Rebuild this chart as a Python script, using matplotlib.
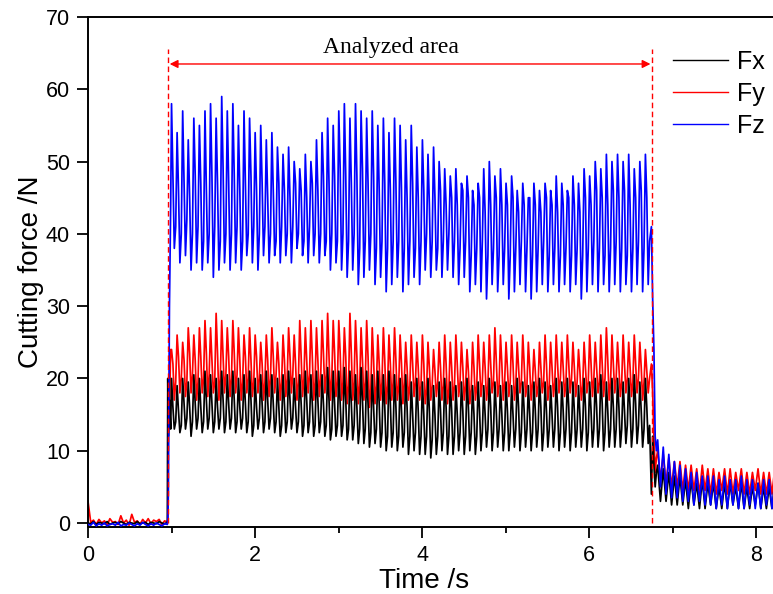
import numpy as np
import matplotlib
matplotlib.use("Agg")
import matplotlib.pyplot as plt

plt.rcParams['font.family'] = ['Liberation Sans', 'DejaVu Sans']

# ---------------- data ----------------
series_names = ["Fx", "Fy", "Fz"]

# idle period before cutting (0 - 0.95 s)
fx_pre = [0.0, -0.1, 0.2, -0.2, 0.1, 0.0, -0.1, 0.2, -0.2, 0.0, 0.1, -0.1, 0.2, 0.0, -0.2,
          0.1, 0.0, -0.1, 0.2, -0.1, 0.0, 0.1, -0.2, 0.1, 0.0, -0.1, 0.2, 0.0, -0.1, 0.1]
fy_pre = [3.0, 0.1, 0.4, -0.2, 0.5, 0.0, 0.3, -0.3, 0.6, 0.1, 0.2, -0.2, 1.0, 0.0, 0.4,
          -0.3, 1.2, 0.1, 0.3, -0.2, 0.5, 0.0, 0.6, -0.1, 0.4, 0.2, 0.5, -0.2, 0.3, 0.1]
fz_pre = [-0.2, -0.3, 0.1, -0.4, -0.1, -0.3, 0.0, -0.4, -0.2, -0.1, -0.3, 0.1, -0.4, -0.2, -0.3,
          0.0, -0.2, -0.4, -0.1, -0.3, 0.1, -0.2, -0.4, -0.1, -0.3, 0.0, -0.2, -0.4, -0.1, -0.2]

# tool entry
rise_t = [0.955, 0.962, 0.975, 0.99]
fx_rise = [20, 12, 17, 13]
fy_rise = [0.5, 14, 16, 24]
fz_rise = [0.5, 4, 30, 44]

# cutting period: per-cycle peak, trough, secondary high, secondary low
fz_peak = [58, 54, 57, 53, 56, 55, 57, 58, 56, 59,
           57, 58, 55, 57, 56, 54, 55, 53, 54, 52,
           51, 52, 50, 49, 51, 50, 53, 54, 56, 55,
           57, 58, 56, 58, 57, 56, 57, 55, 56, 54,
           56, 55, 53, 55, 52, 53, 51, 52, 50, 49,
           48, 49, 47, 48, 46, 47, 49, 50, 48, 49,
           47, 48, 46, 47, 45, 47, 46, 47, 46, 48,
           47, 46, 48, 47, 49, 48, 50, 49, 51, 50,
           51, 50, 51, 49, 50, 51]
fz_trough = [38, 36, 37, 35, 36, 35, 36, 34, 35, 36,
             35, 36, 35, 37, 36, 35, 37, 36, 37, 36,
             37, 36, 38, 37, 36, 37, 36, 37, 35, 36,
             35, 34, 35, 33, 34, 35, 33, 34, 32, 33,
             34, 32, 33, 34, 33, 35, 34, 35, 34, 35,
             34, 33, 34, 32, 33, 32, 31, 33, 32, 33,
             31, 32, 33, 32, 31, 32, 33, 32, 33, 32,
             33, 32, 33, 31, 32, 33, 32, 33, 32, 33,
             32, 33, 32, 33, 32, 33]
fz_mid_hi = [48, 46, 47, 45, 48, 47, 46, 48, 47, 49,
             47, 48, 46, 47, 48, 46, 47, 45, 46, 47,
             46, 45, 47, 46, 45, 47, 46, 48, 47, 48,
             49, 48, 47, 48, 49, 47, 48, 46, 47, 46,
             47, 46, 45, 47, 45, 46, 44, 45, 46, 44,
             45, 44, 46, 45, 44, 45, 43, 44, 45, 44,
             44, 45, 43, 44, 45, 44, 43, 45, 44, 43,
             44, 45, 44, 43, 45, 44, 46, 45, 44, 46,
             45, 46, 44, 45, 46, 45]
fz_mid_lo = [41, 40, 42, 40, 41, 39, 40, 41, 39, 40,
             40, 41, 39, 40, 41, 40, 41, 40, 39, 41,
             40, 41, 40, 39, 41, 40, 40, 39, 40, 39,
             40, 39, 40, 38, 39, 40, 38, 39, 38, 39,
             39, 38, 39, 38, 39, 40, 39, 38, 39, 40,
             39, 38, 39, 37, 38, 39, 37, 38, 37, 38,
             37, 38, 39, 38, 37, 38, 39, 37, 38, 37,
             38, 37, 38, 37, 38, 39, 38, 37, 38, 39,
             38, 37, 38, 39, 38, 39]

fy_peak = [24, 26, 25, 27, 26, 27, 28, 27, 29, 28,
           27, 28, 27, 26, 27, 26, 25, 26, 27, 25,
           26, 27, 26, 28, 27, 28, 27, 28, 29, 28,
           28, 27, 29, 28, 27, 28, 27, 26, 27, 26,
           27, 26, 25, 26, 25, 26, 25, 24, 25, 26,
           25, 26, 25, 24, 25, 26, 25, 26, 27, 26,
           25, 26, 25, 26, 25, 24, 25, 26, 25, 26,
           25, 26, 25, 24, 25, 26, 25, 26, 27, 26,
           25, 26, 25, 26, 25, 24]
fy_trough = [17, 18, 17.5, 18, 17, 18, 17.5, 18, 17, 18,
             17.5, 18, 17, 18, 17.5, 18, 17, 17.5, 18, 17,
             17.5, 18, 17, 17.5, 18, 17, 17.5, 18, 17, 17.5,
             17, 16.5, 17, 16.5, 17, 16, 16.5, 17, 16.5, 17,
             17, 16.5, 17, 17.5, 17, 16.5, 17, 17.5, 17, 16.5,
             17, 17.5, 17, 16.5, 17, 17.5, 17, 18, 17.5, 17,
             17.5, 17, 18, 17.5, 17, 17.5, 18, 17, 17.5, 18,
             17.5, 18, 17.5, 17, 18, 17.5, 18, 17.5, 17, 18,
             17.5, 18, 17.5, 18, 17, 18]
fy_mid_hi = [22, 23, 22.5, 23.5, 22.5, 23, 23.5, 22.5, 23.5, 23,
             23, 23.5, 22.5, 23, 22.5, 23, 22, 22.5, 23, 22,
             22.5, 23, 22, 23, 22.5, 23, 22.5, 23.5, 23, 23.5,
             23.5, 23, 23.5, 23, 22.5, 23, 22.5, 22, 22.5, 22,
             22.5, 22, 21.5, 22, 21.5, 22, 21.5, 21, 21.5, 22,
             21.5, 22, 21.5, 21, 21.5, 22, 21.5, 22, 22.5, 22,
             21.5, 22, 21.5, 22, 21.5, 21, 21.5, 22, 21.5, 22,
             21.5, 22, 21.5, 21, 21.5, 22, 21.5, 22, 22.5, 22,
             21.5, 22, 21.5, 22, 21.5, 21]
fy_mid_lo = [19.5, 20, 19.5, 20.5, 19.5, 20, 20.5, 19.5, 20, 20.5,
             20, 20.5, 19.5, 20, 19.5, 20, 19.5, 20, 20.5, 19.5,
             20, 20.5, 19.5, 20, 20.5, 19.5, 20, 20.5, 20, 19.5,
             19.5, 19, 19.5, 19, 19.5, 18.5, 19, 19.5, 19, 19.5,
             19, 19.5, 19, 19.5, 19, 18.5, 19, 19.5, 19, 18.5,
             19, 19.5, 19, 18.5, 19, 19.5, 19, 19.5, 19, 19.5,
             19.5, 19, 19.5, 19, 19.5, 19, 19.5, 19, 19.5, 20,
             19.5, 20, 19.5, 19, 19.5, 20, 19.5, 20, 19.5, 20,
             19.5, 20, 19.5, 20, 19.5, 20]

fx_peak = [20, 19, 20, 19.5, 20.5, 20, 21, 20.5, 20, 21,
           20.5, 21, 20, 20.5, 21, 20, 20.5, 21, 20.5, 20,
           20.5, 21, 20, 20.5, 21, 20.5, 21, 20.5, 21.5, 21,
           21, 21.5, 21, 20.5, 21.5, 21, 20.5, 21, 20.5, 21,
           20.5, 20, 20.5, 19.5, 20, 19.5, 20, 19, 19.5, 20,
           19.5, 19, 19.5, 20, 19, 19.5, 19, 20, 19.5, 19,
           19.5, 19, 20, 19.5, 19, 19.5, 20, 19.5, 19, 20,
           19.5, 20, 19.5, 19, 20, 19.5, 20, 20.5, 19.5, 20,
           20, 19.5, 20, 20.5, 19.5, 20]
fx_trough = [13, 12.5, 13, 12, 13, 12.5, 13, 12.5, 13, 12.5,
             13, 12.5, 13, 12.5, 12, 13, 12.5, 13, 12.5, 12,
             12.5, 13, 12.5, 12, 12.5, 12, 12.5, 12, 11.5, 12,
             12, 11.5, 11.5, 11, 11, 10.5, 11, 10.5, 10, 10.5,
             10, 10.5, 9.5, 10, 9.5, 9.5, 9, 9.5, 10, 9.5,
             9.5, 10, 9.5, 10, 9.5, 10, 10.5, 10, 10.5, 10,
             10, 10.5, 10, 10.5, 10, 10.5, 10, 10.5, 10.5, 10,
             10.5, 10, 10.5, 10.5, 10, 10.5, 10.5, 10, 10.5, 10.5,
             10.5, 11, 10.5, 11, 10.5, 11]
fx_mid_hi = [16, 15.5, 16.5, 16, 16.5, 16, 17, 16.5, 16, 17,
             16.5, 17, 16, 16.5, 17, 16, 16.5, 17, 16.5, 16,
             16.5, 17, 16, 16.5, 17, 16.5, 17, 16.5, 17, 16.5,
             16.5, 17, 16.5, 16, 17, 16.5, 16, 16.5, 16, 16.5,
             16, 15.5, 16, 15, 15.5, 15, 15.5, 15, 15.5, 16,
             15.5, 15, 15.5, 16, 15, 15.5, 15, 16, 15.5, 15,
             15.5, 15, 16, 15.5, 15, 15.5, 16, 15.5, 15, 16,
             15.5, 16, 15.5, 15, 16, 15.5, 16, 16.5, 15.5, 16,
             16, 15.5, 16, 16.5, 15.5, 16]
fx_mid_lo = [14, 13.5, 14.5, 14, 14.5, 14, 14.5, 14, 14.5, 14,
             14.5, 14, 14.5, 14, 13.5, 14.5, 14, 14.5, 14, 13.5,
             14, 14.5, 14, 13.5, 14, 13.5, 14, 13.5, 13, 13.5,
             13.5, 13, 13.5, 13, 13, 12.5, 13, 12.5, 12, 12.5,
             12, 12.5, 12, 12.5, 12, 12, 11.5, 12, 12.5, 12,
             12, 12.5, 12, 12.5, 12, 12.5, 13, 12.5, 13, 12.5,
             12.5, 13, 12.5, 13, 12.5, 13, 12.5, 13, 13, 12.5,
             13, 12.5, 13, 13, 12.5, 13, 13, 12.5, 13, 13,
             13, 13.5, 13, 13.5, 13, 13.5]

# tool exit
fall_t = [6.745, 6.76, 6.775, 6.79, 6.805]
fx_fall = [4, 12, 8, 5, 7]
fy_fall = [22, 18, 12, 7, 9]
fz_fall = [41, 31, 24, 12, 10]

# after cutting: per-cycle peak and trough
fx_post_peak = [8, 7.5, 7, 6.5, 6.5, 6, 6, 5.5, 6, 5.5, 5.5, 5, 5.5, 5.5, 5,
                5.5, 5, 5, 5.5, 5, 5, 5.5, 5, 5, 5]
fx_post_trough = [3, 3, 2.5, 2.5, 2.5, 2, 2.5, 2, 2, 2.5, 2, 2, 2, 2.5, 2,
                  2, 2, 2.5, 2, 2, 2, 2.5, 2, 2, 2]
fy_post_peak = [10, 9.5, 9, 8.5, 8.5, 8, 8, 7.5, 8, 7.5, 7.5, 7, 7.5, 7.5, 7,
                7.5, 7, 7, 7.5, 7, 7, 7.5, 7, 7, 7]
fy_post_trough = [6, 5.5, 5, 5, 4.5, 4.5, 4.5, 4, 4.5, 4, 4, 4.5, 4, 4, 4.5,
                  4, 4, 4.5, 4, 4, 4, 4.5, 4, 4, 4]
fz_post_peak = [11.5, 10.5, 9.5, 8.5, 8, 7.5, 7, 7, 6.5, 6.5, 6.5, 6, 6.5, 6, 6,
                6.5, 6, 6, 5.5, 6, 6, 5.5, 6, 5.5, 6]
fz_post_trough = [5, 4, 3.5, 3.5, 3, 3, 2.5, 3, 2.5, 2.5, 2, 2.5, 2, 2.5, 2,
                  2, 2.5, 2, 2, 2.5, 2, 2, 2.5, 2, 2]

# analyzed window and annotation
window_start, window_end = 0.958, 6.754
annot_text = "Analyzed area"


# ---------------- assemble signals ----------------
def build(pre, rise, peak, trough, mid_hi, mid_lo, fall, post_peak, post_trough):
    t_pre = np.linspace(0.0, 0.95, len(pre))
    n = len(peak)
    per = (6.74 - 1.0) / n
    cyc = np.column_stack([peak, mid_hi, trough, mid_lo]).ravel()
    t_cyc = 1.0 + np.arange(4 * n) * per / 4
    m = len(post_peak)
    post = np.column_stack([post_peak, post_trough]).ravel()
    t_post = 6.82 + np.arange(2 * m) * per / 2
    t = np.concatenate([t_pre, rise_t, t_cyc, fall_t, t_post])
    y = np.concatenate([pre, rise, cyc, fall, post])
    return t, y


tx, yx = build(fx_pre, fx_rise, fx_peak, fx_trough, fx_mid_hi, fx_mid_lo, fx_fall,
               fx_post_peak, fx_post_trough)
ty, yy = build(fy_pre, fy_rise, fy_peak, fy_trough, fy_mid_hi, fy_mid_lo, fy_fall,
               fy_post_peak, fy_post_trough)
tz, yz = build(fz_pre, fz_rise, fz_peak, fz_trough, fz_mid_hi, fz_mid_lo, fz_fall,
               fz_post_peak, fz_post_trough)

# ---------------- figure ----------------
W, H = 773, 594
fig = plt.figure(figsize=(W / 100, H / 100), dpi=100)
ax_left, ax_bottom = 88 / W, 67 / H
ax_w, ax_h = 710 / W, 510 / H
ax = fig.add_axes([ax_left, ax_bottom, ax_w, ax_h])

lw = 1.25
ly, = ax.plot(ty, yy, color="red", lw=lw, label=series_names[1], zorder=2)
lx, = ax.plot(tx, yx, color="black", lw=lw, label=series_names[0], zorder=3)
lz, = ax.plot(tz, yz, color="blue", lw=lw, label=series_names[2], zorder=4)

ax.set_xlim(0, 8.5)
ax.set_ylim(-0.55, 70)
ax.set_xticks([0, 2, 4, 6, 8])
ax.set_xticks([1, 3, 5, 7], minor=True)
ax.set_yticks(np.arange(0, 71, 10))
ax.tick_params(which="major", direction="out", length=8, width=1.3, labelsize=15.5, pad=5)
ax.tick_params(which="minor", direction="out", length=4.5, width=1.3)
for s in ax.spines.values():
    s.set_linewidth(1.4)

ax.set_xlabel("Time /s", fontsize=20)
ax.set_ylabel("Cutting force /N", fontsize=20)
ax.xaxis.set_label_coords((424 - 88) / 710, -(568 - 527) / 510)
ax.yaxis.set_label_coords((44 - 88) / 710, 0.5)

# analyzed window markers
dash = (0, (4, 2.5))
ax.plot([window_start, window_start], [0, 65.6], color="red", lw=1.0, linestyle=dash, zorder=5)
ax.plot([window_end, window_end], [0, 65.6], color="red", lw=1.0, linestyle=dash, zorder=5)
ax.annotate("", xy=(window_start + 0.02, 63.5), xytext=(window_end - 0.02, 63.5),
            arrowprops=dict(arrowstyle="<|-|>", color="red", lw=1.0,
                            mutation_scale=12, shrinkA=0, shrinkB=0), zorder=6)
ax.text((window_start + window_end) / 2 - 0.23, 65.8, annot_text,
        family=["Liberation Serif", "DejaVu Serif"], fontsize=17,
        ha="center", va="center", zorder=6)

leg = fig.legend(handles=[lx, ly, lz], loc="upper left",
                 bbox_to_anchor=(673 / W, 1 - 50 / H), frameon=False,
                 fontsize=18, handlelength=2.2, handletextpad=0.35,
                 labelspacing=0.32, borderpad=0, borderaxespad=0)
for h in leg.get_lines():
    h.set_linewidth(1.0)

fig.savefig("out.png", dpi=100)
